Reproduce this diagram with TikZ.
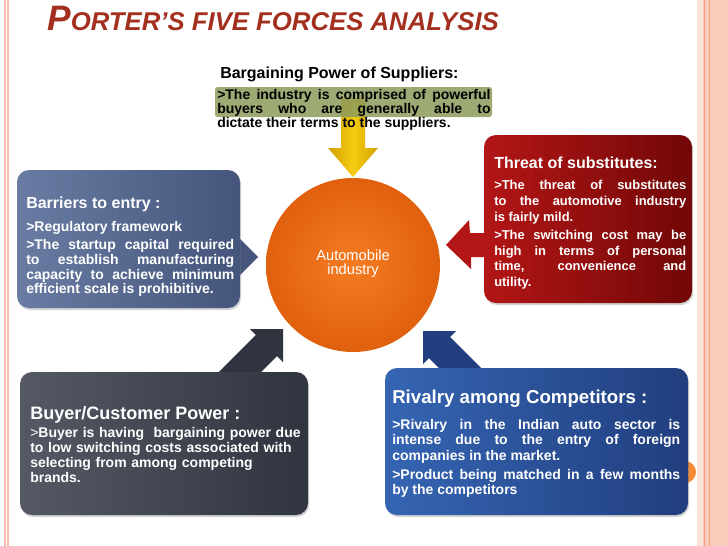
\documentclass[tikz,border=0pt]{standalone}
\usepackage{fontspec}
\setmainfont{Liberation Sans}
\usetikzlibrary{shadows}
\hyphenpenalty=10000
\exhyphenpenalty=10000
\definecolor{titlered}{HTML}{A3301F}
\definecolor{framepink}{HTML}{F6BFAA}
\definecolor{framedeep}{HTML}{EE9F80}
\definecolor{subred}{HTML}{B31616}
\definecolor{subdark}{HTML}{720707}
\definecolor{entrylight}{HTML}{6A7CA3}
\definecolor{entrydark}{HTML}{45557C}
\definecolor{buyerlight}{HTML}{545965}
\definecolor{buyerdark}{HTML}{30343E}
\definecolor{rivallight}{HTML}{3565B3}
\definecolor{rivaldark}{HTML}{213E7E}
\definecolor{coreinner}{HTML}{F57C22}
\definecolor{coreouter}{HTML}{E0600E}
\definecolor{supyellow}{HTML}{F5CC12}
\definecolor{supdark}{HTML}{D2A000}
\definecolor{suphigh}{HTML}{8D9B5C}

\begin{document}
\begin{tikzpicture}[x=0.75pt,y=-0.75pt,
  forcebox/.style={rounded corners=9pt,drop shadow={opacity=0.35,shadow xshift=0.8pt,shadow yshift=-1.5pt}},
  boxtitle/.style={anchor=west,inner sep=0pt,text=white,font=\bfseries\fontsize{12}{14}\selectfont},
  boxbody/.style={anchor=north west,inner sep=0pt,text=white,align=justify,
    font=\bfseries\fontsize{10.5}{11.6}\selectfont\setlength{\parskip}{2.5pt}}]
\useasboundingbox (0,0) rectangle (728,546);

% slide frame
\draw[framepink,line width=0.8pt] (5,0) -- (5,546);
\draw[framepink,line width=0.8pt] (8,0) -- (8,546);
\fill[framepink!45] (697,0) rectangle (728,546);
\fill[framepink!80] (703,0) rectangle (728,546);
\draw[framedeep,very thin] (704.5,0) -- (704.5,546);
\draw[framedeep,very thin] (709,0) -- (709,546);
\fill[coreinner!90] (685,472) circle (11);

\node[anchor=base west,inner sep=0pt,text=titlered,font=\bfseries\itshape] (title) at (47,31)
  {{\fontsize{26.5}{26.5}\selectfont P}{\fontsize{19.3}{19.3}\selectfont ORTER’S FIVE FORCES ANALYSIS}};

% suppliers
\shade[left color=supdark,right color=supdark,middle color=supyellow]
  (341,98) -- (365,98) -- (365,148) -- (378,148) -- (353,177) -- (328,148) -- (341,148) -- cycle;
\fill[suphigh,opacity=0.85,rounded corners=2pt] (215,87) rectangle (492,117);
\node[anchor=west,inner sep=0pt,font=\bfseries\fontsize{12}{14}\selectfont] (suphead) at (220,74)
  {Bargaining Power of Suppliers:};
\node[boxbody,text=black,text width=205pt,font=\bfseries\fontsize{10.5}{10.5}\selectfont] (supbody) at (217,89)
  {>The industry is comprised of powerful\linebreak buyers who are generally able to\linebreak dictate their terms to the suppliers.};

% industry
\shade[inner color=coreinner,outer color=coreouter] (353,265) circle (87);
\node[align=center,text=white,font=\fontsize{11}{10.5}\selectfont] (core) at (353,264) {Automobile\\industry};

% substitutes
\fill[subred] (486,233) -- (470,233) -- (469,220) -- (446,245) -- (471,269) -- (471,257) -- (486,257) -- cycle;
\path[forcebox,left color=subred,right color=subdark] (484,135) rectangle (692,303);
\node[boxtitle] (subhead) at (494,163) {Threat of substitutes:};
\node[boxbody,text width=144pt,font=\bfseries\fontsize{9.7}{11.8}\selectfont\setlength{\parskip}{2pt}] (subbody) at (494,180)
  {>The threat of substitutes\linebreak to the automotive industry\linebreak is fairly mild.\par
   >The switching cost may be\linebreak high in terms of personal\linebreak time, convenience and\linebreak utility.};

% entry
\fill[entrydark] (239,238) -- (258,257) -- (239,276) -- cycle;
\path[forcebox,left color=entrylight,right color=entrydark] (17,170) rectangle (240,308);
\node[boxtitle] (entryhead) at (26,204) {Barriers to entry :};
\node[boxbody,text width=156pt,font=\bfseries\fontsize{10.5}{10.9}\selectfont\setlength{\parskip}{3pt}] (entrybody) at (26,221)
  {>Regulatory framework\par
   >The startup capital required\linebreak to establish manufacturing\linebreak capacity to achieve minimum\linebreak efficient scale is prohibitive.};

% buyers
\fill[buyerdark] (210.8,380) -- (255.9,334.9) -- (250,329) -- (283,329) -- (283,362) -- (277.1,356.1) -- (253.2,380) -- cycle;
\path[forcebox,left color=buyerlight,right color=buyerdark] (20,372) rectangle (308,515);
\node[boxtitle,font=\bfseries\fontsize{13.5}{15}\selectfont] (buyhead) at (30,415) {Buyer/Customer Power :};
\node[boxbody,align=left,text width=270pt,font=\bfseries\fontsize{10.5}{11.25}\selectfont] (buybody) at (30,427)
  {{\mdseries>}Buyer is having\ \ bargaining power due\\to low switching costs associated with\\selecting from among competing\\brands.};

% rivalry
\fill[rivaldark] (450.8,380) -- (428.9,358.1) -- (423,364) -- (423,331) -- (456,331) -- (450.1,336.9) -- (493.2,380) -- cycle;
\path[forcebox,left color=rivallight,right color=rivaldark] (385,368) rectangle (688,515);
\node[boxtitle,font=\bfseries\fontsize{14}{16}\selectfont] (rivhead) at (392,399) {Rivalry among Competitors :};
\node[boxbody,text width=216pt] (rivbody) at (392,419)
  {>Rivalry in the Indian auto sector is\linebreak intense due to the entry of foreign\linebreak companies in the market.\par
   >Product being matched in a few months\linebreak by the competitors};

\end{tikzpicture}
\end{document}
